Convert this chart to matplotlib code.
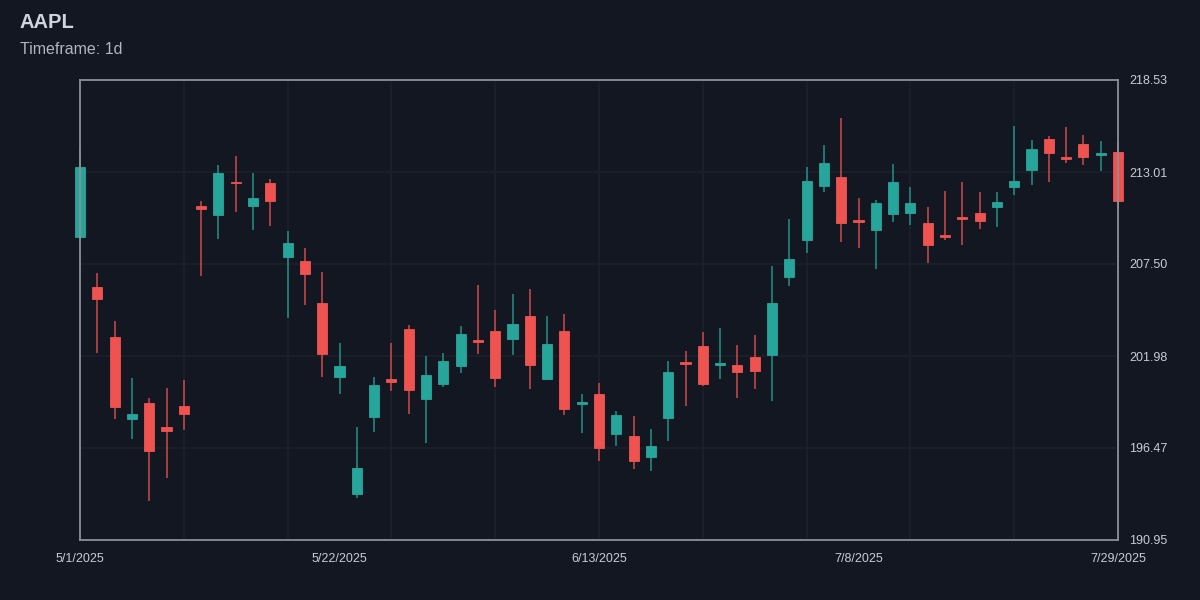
import matplotlib
matplotlib.use("Agg")
import matplotlib.pyplot as plt
from matplotlib.patches import Rectangle

# daily AAPL candles, 5/1/2025 - 7/29/2025 (61 trading days)
dates = ["5/1/2025", "5/2/2025", "5/5/2025", "5/6/2025", "5/7/2025", "5/8/2025", "5/9/2025",
         "5/12/2025", "5/13/2025", "5/14/2025", "5/15/2025", "5/16/2025", "5/19/2025", "5/20/2025",
         "5/21/2025", "5/22/2025", "5/23/2025", "5/27/2025", "5/28/2025", "5/29/2025", "5/30/2025",
         "6/2/2025", "6/3/2025", "6/4/2025", "6/5/2025", "6/6/2025", "6/9/2025", "6/10/2025",
         "6/11/2025", "6/12/2025", "6/13/2025", "6/16/2025", "6/17/2025", "6/18/2025", "6/20/2025",
         "6/23/2025", "6/24/2025", "6/25/2025", "6/26/2025", "6/27/2025", "6/30/2025", "7/1/2025",
         "7/2/2025", "7/3/2025", "7/7/2025", "7/8/2025", "7/9/2025", "7/10/2025", "7/11/2025",
         "7/14/2025", "7/15/2025", "7/16/2025", "7/17/2025", "7/18/2025", "7/21/2025", "7/22/2025",
         "7/23/2025", "7/24/2025", "7/25/2025", "7/28/2025", "7/29/2025"]

opens = [209.10, 206.10, 203.10, 198.22, 199.16, 197.73, 199.00, 210.98, 210.45, 212.43,
         210.96, 212.37, 207.92, 207.68, 205.16, 200.72, 193.69, 198.33, 200.59, 203.58,
         199.39, 200.29, 201.37, 202.94, 203.50, 203.02, 204.40, 200.60, 203.50, 199.09,
         199.72, 197.32, 197.19, 195.94, 198.25, 201.62, 202.58, 201.46, 201.42, 201.90,
         202.02, 206.70, 208.94, 212.16, 212.70, 210.12, 209.56, 210.51, 210.57, 209.94,
         209.22, 210.30, 210.56, 210.90, 212.12, 213.15, 214.99, 213.90, 214.69, 214.05,
         214.20]
highs = [214.57, 206.98, 204.10, 200.66, 199.45, 200.06, 200.54, 211.28, 213.42, 213.97,
         212.97, 212.58, 209.48, 208.48, 207.04, 202.76, 197.71, 200.74, 202.74, 203.82,
         201.96, 202.14, 203.78, 206.24, 204.74, 205.70, 206.00, 204.36, 204.50, 199.69,
         200.36, 198.69, 198.39, 197.59, 201.70, 202.30, 203.44, 203.66, 202.64, 203.24,
         207.38, 210.20, 213.33, 214.65, 216.25, 211.44, 211.34, 213.49, 212.13, 210.92,
         211.89, 212.42, 211.82, 211.80, 215.77, 214.95, 215.17, 215.71, 215.25, 214.87,
         214.81]
lows = [209.00, 202.18, 198.22, 197.02, 193.27, 194.69, 197.55, 206.78, 209.02, 210.60,
        209.56, 209.78, 204.28, 205.06, 200.72, 199.72, 193.49, 197.44, 199.90, 198.52,
        196.78, 200.14, 200.98, 202.12, 200.14, 202.04, 200.02, 200.56, 198.43, 197.38,
        195.71, 196.57, 195.23, 195.09, 196.87, 198.98, 200.20, 200.62, 199.48, 200.02,
        199.27, 206.18, 208.18, 211.83, 208.82, 208.48, 207.22, 210.03, 209.85, 207.56,
        208.94, 208.66, 209.62, 209.72, 211.65, 212.25, 212.43, 213.54, 213.42, 213.07,
        210.81]
closes = [213.31, 205.38, 198.91, 198.51, 196.27, 197.50, 198.52, 210.81, 212.94, 212.34,
          211.46, 211.28, 208.78, 206.88, 202.12, 201.37, 195.27, 200.23, 200.44, 199.96,
          200.84, 201.70, 203.28, 202.84, 200.65, 203.92, 201.46, 202.68, 198.79, 199.21,
          196.47, 198.43, 195.67, 196.59, 201.01, 201.52, 200.30, 201.56, 201.01, 201.10,
          205.18, 207.82, 212.46, 213.55, 209.97, 210.02, 211.16, 212.43, 211.16, 208.62,
          209.12, 210.18, 210.06, 211.20, 212.49, 214.39, 214.17, 213.78, 213.90, 214.09,
          211.29]

y_ticks = [190.95, 196.47, 201.98, 207.50, 213.01, 218.53]
x_tick_idx = [0, 15, 30, 45, 60]

bg = "#131722"
up_col = "#26a69a"
down_col = "#ef5350"
txt_col = "#c9ccd3"
grid_col = "#1c202b"

plt.rcParams['font.family'] = ['Liberation Sans', 'DejaVu Sans']

fig = plt.figure(figsize=(12, 6), dpi=100, facecolor=bg)
ax = fig.add_axes([80 / 1200, 60 / 600, 1038 / 1200, 460 / 600])
ax.set_facecolor(bg)

body_w = 0.58
for i in range(len(opens)):
    o, h, l, c = opens[i], highs[i], lows[i], closes[i]
    col = up_col if c >= o else down_col
    ax.plot([i, i], [l, h], color=col, lw=1.1, alpha=0.85, solid_capstyle="butt",
            zorder=3, clip_on=False)
    bot = min(o, c)
    ht = max(abs(c - o), 0.1)
    ax.add_patch(Rectangle((i - body_w / 2, bot), body_w, ht, facecolor=col,
                           edgecolor=col, lw=0.6, zorder=4, clip_on=False))

ax.set_xlim(0, len(opens) - 1)
ax.set_ylim(y_ticks[0], y_ticks[-1])

# grid
for yv in y_ticks:
    ax.axhline(yv, color=grid_col, lw=1.2, zorder=1)
for xv in range(0, len(opens), 6):
    ax.axvline(xv, color=grid_col, lw=1.2, zorder=1)

ax.yaxis.tick_right()
ax.set_yticks(y_ticks)
ax.set_yticklabels([f"{v:.2f}" for v in y_ticks])
ax.set_xticks(x_tick_idx)
ax.set_xticklabels([dates[i] for i in x_tick_idx])
ax.tick_params(axis="y", length=0, pad=8, colors=txt_col, labelsize=9)
ax.tick_params(axis="x", length=0, pad=9, colors=txt_col, labelsize=9)

for sp in ax.spines.values():
    sp.set_color("#8b8f98")
    sp.set_linewidth(1.3)
    sp.set_zorder(5)

fig.text(20 / 1200, 1 - 23 / 600, "AAPL", color="#d1d4dc", fontsize=14.5,
         fontweight="bold", va="center", ha="left")
fig.text(20 / 1200, 1 - 49 / 600, "Timeframe: 1d", color="#b2b5be", fontsize=11.5,
         va="center", ha="left")

fig.savefig("out.png", dpi=100, facecolor=bg)
